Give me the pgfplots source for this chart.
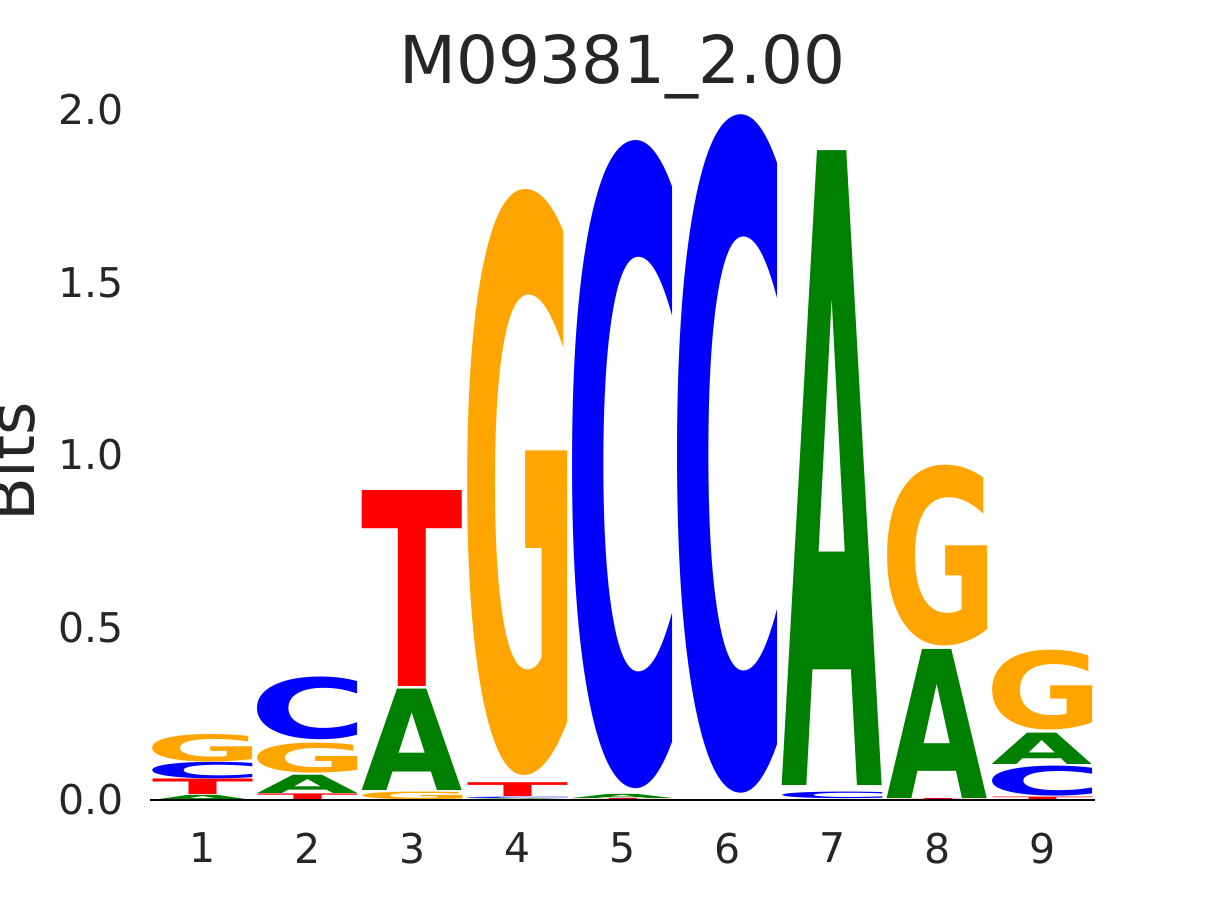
\documentclass[border=0pt]{standalone}
\usepackage{pgfplots}
\pgfplotsset{compat=1.18}
\usepackage{fontspec}
\setmainfont{DejaVu Sans}
\setsansfont{DejaVu Sans}
\usepackage{graphicx}
\definecolor{lgreen}{RGB}{0,128,0}
\definecolor{lblue}{RGB}{0,0,255}
\definecolor{lorange}{RGB}{255,165,0}
\definecolor{lred}{RGB}{255,0,0}
\definecolor{txt}{RGB}{38,38,38}
\newlength\bitu
\setlength\bitu{172.5pt}
\newlength\letterh
% correction for the overshoot of round letters
\def\hfA{1}\def\hfT{1}\def\hfC{0.979}\def\hfG{0.979}
\newcommand\inkbox[1]{{\sffamily\bfseries\setbox0=\hbox{\kern-\XeTeXglyphbounds1 \XeTeXcharglyph`#1\relax #1\kern-\XeTeXglyphbounds3 \XeTeXcharglyph`#1\relax}\box0}}
% position, bottom (bits), height (bits), letter, colour
\newcommand\logoletter[5]{\node[anchor=south, inner sep=0pt, outer sep=0pt, text=#5] at (axis cs:#1,#2) {\setlength\letterh{#3\bitu}\setlength\letterh{\csname hf#4\endcsname\letterh}\resizebox{50pt}{\letterh}{\inkbox{#4}}};}
\begin{document}
\begin{tikzpicture}
\path[use as bounding box] (-75pt,-50pt) rectangle (532.5pt,400pt);
\begin{axis}[
  scale only axis, width=472.5pt, height=345pt,
  at={(0,0)}, anchor=south west,
  xmin=0.5, xmax=9.5, ymin=0, ymax=2,
  clip=false,
  axis line style={draw=none}, tick style={draw=none},
  xtick={1,2,3,4,5,6,7,8,9},
  ytick={0,0.5,1,1.5,2},
  /pgf/number format/assume math mode=true,
  yticklabel={\pgfmathprintnumber[fixed,fixed zerofill,precision=1]{\tick}},
  tick label style={font=\fontsize{20.5}{24}\selectfont, text=txt},
  xticklabel style={yshift=-12.8pt},
  yticklabel style={xshift=-9.8pt},
  title={M09381\_2.00},
  title style={at={(axis description cs:0.5,1)}, anchor=base, yshift=7pt, font=\fontsize{33}{40}\selectfont, text=txt},
  ylabel={Bits},
  ylabel style={at={(axis description cs:-0.1225,0.490)}, anchor=base, font=\fontsize{32}{38}\selectfont, text=txt},
]
% position 1
\logoletter{1}{0.000}{0.015}{A}{lgreen}
\logoletter{1}{0.015}{0.045}{T}{lred}
\logoletter{1}{0.060}{0.048}{C}{lblue}
\logoletter{1}{0.111}{0.080}{G}{lorange}
% position 2
\logoletter{2}{0.000}{0.019}{T}{lred}
\logoletter{2}{0.019}{0.053}{A}{lgreen}
\logoletter{2}{0.077}{0.087}{G}{lorange}
\logoletter{2}{0.174}{0.182}{C}{lblue}
% position 3
\logoletter{3}{0.002}{0.022}{G}{lorange}
\logoletter{3}{0.027}{0.294}{A}{lgreen}
\logoletter{3}{0.328}{0.568}{T}{lred}
% position 4
\logoletter{4}{0.000}{0.002}{A}{lgreen}
\logoletter{4}{0.004}{0.004}{C}{lblue}
\logoletter{4}{0.010}{0.040}{T}{lred}
\logoletter{4}{0.070}{1.699}{G}{lorange}
% position 5
\logoletter{5}{0.000}{0.003}{T}{lred}
\logoletter{5}{0.003}{0.012}{A}{lgreen}
\logoletter{5}{0.034}{1.879}{C}{lblue}
% position 6
\logoletter{6}{0.019}{1.967}{C}{lblue}
% position 7
\logoletter{7}{0.005}{0.019}{C}{lblue}
\logoletter{7}{0.041}{1.838}{A}{lgreen}
% position 8
\logoletter{8}{0.000}{0.003}{T}{lred}
\logoletter{8}{0.005}{0.432}{A}{lgreen}
\logoletter{8}{0.446}{0.525}{G}{lorange}
% position 9
\logoletter{9}{0.000}{0.010}{T}{lred}
\logoletter{9}{0.012}{0.087}{C}{lblue}
\logoletter{9}{0.104}{0.091}{A}{lgreen}
\logoletter{9}{0.203}{0.232}{G}{lorange}
\addplot[black, line width=0.8pt] coordinates {(0.5,0) (9.5,0)};
\end{axis}
\end{tikzpicture}
\end{document}
